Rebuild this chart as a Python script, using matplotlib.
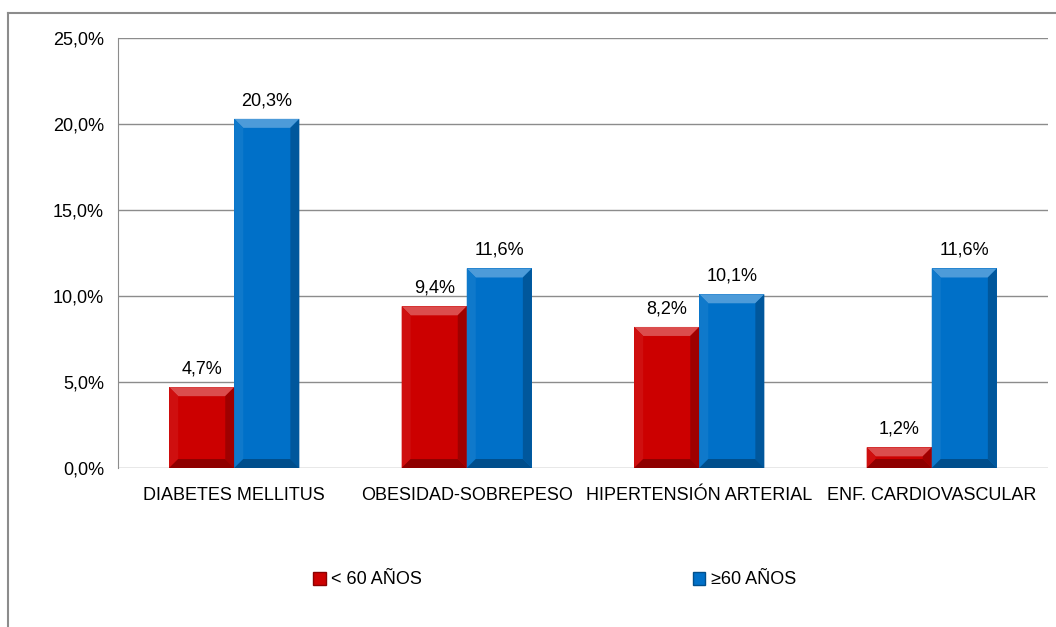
import matplotlib
import matplotlib.pyplot as plt
from matplotlib.patches import Polygon, Rectangle
from matplotlib.transforms import IdentityTransform
import numpy as np

matplotlib.use("Agg")

categories = ["DIABETES MELLITUS", "OBESIDAD-SOBREPESO", "HIPERTENSIÓN ARTERIAL", "ENF. CARDIOVASCULAR"]
menores_60 = [4.7, 9.4, 8.2, 1.2]
mayores_60 = [20.3, 11.6, 10.1, 11.6]
series_names = ["< 60 AÑOS", "≥60 AÑOS"]
yticks = [0, 5, 10, 15, 20, 25]

RED = "#cc0000"
BLUE = "#0070c8"

plt.rcParams["font.family"] = ["Liberation Sans Narrow", "Liberation Sans", "DejaVu Sans"]
plt.rcParams["font.size"] = 13

fig = plt.figure(figsize=(10.56, 6.27), dpi=100)
ax = fig.add_axes([118 / 1056, 1 - 468 / 627, (1048 - 118) / 1056, (468 - 38) / 627])

# outer chart frame (open at the right and bottom)
fig.add_artist(plt.Line2D([8 / 1056, 8 / 1056], [0, 1 - 13 / 627], transform=fig.transFigure,
                          color="#8c8c8c", lw=1.5))
fig.add_artist(plt.Line2D([8 / 1056, 1], [1 - 13 / 627, 1 - 13 / 627], transform=fig.transFigure,
                          color="#8c8c8c", lw=1.5))

x = np.arange(len(categories))
w = 0.28
bars_a = ax.bar(x - w / 2, menores_60, w, color=RED, label=series_names[0], zorder=3)
bars_b = ax.bar(x + w / 2, mayores_60, w, color=BLUE, label=series_names[1], zorder=3)

ax.set_ylim(0, 25)
ax.set_xlim(-0.5, len(categories) - 0.5)
ax.set_yticks(yticks)
ax.set_yticklabels([f"{t:.1f}%".replace(".", ",") for t in yticks])
ax.set_xticks(x)
ax.set_xticklabels(categories)
ax.tick_params(length=0, pad=10, labelsize=13)
ax.tick_params(axis="x", pad=14)
ax.yaxis.grid(True, color="#8c8c8c", lw=1)
ax.set_axisbelow(True)
for s in ("top", "right", "bottom"):
    ax.spines[s].set_visible(False)
ax.spines["left"].set_color("#8c8c8c")

for bars, vals in ((bars_a, menores_60), (bars_b, mayores_60)):
    for bar, v in zip(bars, vals):
        ax.annotate(f"{v:.1f}%".replace(".", ","), (bar.get_x() + bar.get_width() / 2, v),
                    xytext=(0, 7), textcoords="offset points", ha="center", va="bottom",
                    fontsize=13)

handles = [Rectangle((0, 0), 1, 1, facecolor=RED, edgecolor="#8a0000"),
           Rectangle((0, 0), 1, 1, facecolor=BLUE, edgecolor="#004f8c")]
fig.legend(handles, series_names, loc="center", bbox_to_anchor=(0.525, 1 - 580 / 627), ncol=2,
           frameon=False, handlelength=0.7, handleheight=0.7, handletextpad=0.3,
           columnspacing=15, fontsize=13)


def shade(c, f):
    c = np.array(matplotlib.colors.to_rgb(c))
    if f > 0:
        return tuple(c + (1 - c) * f)
    return tuple(c * (1 + f))


fig.canvas.draw()


def bevel(bar, color, b=9):
    # bevelled look: light top, darker sides and bottom
    x0, y0, x1, y1 = bar.get_window_extent().extents
    b = min(b, (y1 - y0) / 2, (x1 - x0) / 2)
    faces = [
        ([(x0, y1), (x1, y1), (x1 - b, y1 - b), (x0 + b, y1 - b)], shade(color, 0.3)),
        ([(x0, y0), (x0, y1), (x0 + b, y1 - b), (x0 + b, y0 + b)], shade(color, 0.06)),
        ([(x1, y0), (x1, y1), (x1 - b, y1 - b), (x1 - b, y0 + b)], shade(color, -0.22)),
        ([(x0, y0), (x1, y0), (x1 - b, y0 + b), (x0 + b, y0 + b)], shade(color, -0.3)),
    ]
    for pts, col in faces:
        fig.add_artist(Polygon(pts, closed=True, transform=IdentityTransform(),
                               facecolor=col, edgecolor="none", zorder=4))


for bars, col in ((bars_a, RED), (bars_b, BLUE)):
    for bar in bars:
        bevel(bar, col)

fig.savefig("out.png", dpi=100)
